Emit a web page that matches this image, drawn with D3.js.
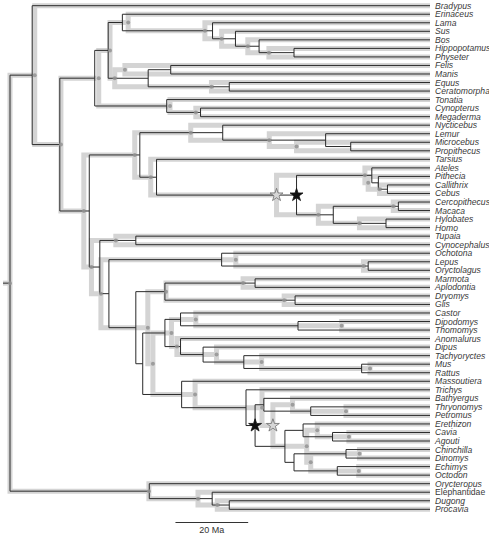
<!DOCTYPE html>
<html>
<head>
<meta charset="utf-8">
<script src="https://cdn.jsdelivr.net/npm/d3@7"></script>
<style>
  html, body { margin: 0; padding: 0; background: #fff; }
  svg { display: block; }
  text { font-family: "Liberation Sans", Arial, sans-serif; }
</style>
</head>
<body>
<svg id="chart" width="489" height="536"></svg>
<script>
// ---------- DATA ----------
const taxa = ["Bradypus","Erinaceus","Lama","Sus","Bos","Hippopotamus","Physeter","Felis","Manis","Equus",
  "Ceratomorpha","Tonatia","Cynopterus","Megaderma","Nycticebus","Lemur","Microcebus","Propithecus","Tarsius",
  "Ateles","Pithecia","Callithrix","Cebus","Cercopithecus","Macaca","Hylobates","Homo","Tupaia","Cynocephalus",
  "Ochotona","Lepus","Oryctolagus","Marmota","Aplodontia","Dryomys","Glis","Castor","Dipodomys","Thomomys",
  "Anomalurus","Dipus","Tachyoryctes","Mus","Rattus","Massoutiera","Trichys","Bathyergus","Thryonomys","Petromus",
  "Erethizon","Cavia","Agouti","Chinchilla","Dinomys","Echimys","Octodon","Orycteropus","Elephantidae","Dugong","Procavia"];
const uprightTaxa = ["Elephantidae"];

// internal nodes: name, two children
const cladeNames = ["Root","XB","Boreoeutheria","Laurasiatheria","LaurA","EriCet","Cetartiodactyla","Cet2","Cet3","Whippomorpha",
  "Fereuungulata","FelMan","Perissodactyla","Chiroptera","CynMeg","Euarchontoglires","Primates","Strepsirrhini","Lemuriformes","MicPro",
  "Haplorrhini","Anthropoidea","Platyrrhini","Plat2","CalCeb","Catarrhini","Cercopithecidae","Hominoidea","SundGlires","Sundatheria",
  "Glires","Lagomorpha","Leporidae","Rodentia","SciuroGlir","Sciuroidea","Gliridae","Rod2","MouseRel","Castorimorpha",
  "Geomyoidea","AnomMyo","Myodonta","Muroidea","Murinae","Ctenohystrica","Hystricognathi","HystCore","Phiomorpha","ThrPet",
  "Caviomorpha","EreCav","Cavioidea","ChinOct","Chinchilloidea","Octodontoidea","Afrotheria","Paenungulata","DugPro"];
const cladeChildren = [["XB","Afrotheria"],["Bradypus","Boreoeutheria"],["Laurasiatheria","Euarchontoglires"],["LaurA","Chiroptera"],
  ["EriCet","Fereuungulata"],["Erinaceus","Cetartiodactyla"],["Lama","Cet2"],["Sus","Cet3"],["Bos","Whippomorpha"],["Hippopotamus","Physeter"],
  ["FelMan","Perissodactyla"],["Felis","Manis"],["Equus","Ceratomorpha"],["Tonatia","CynMeg"],["Cynopterus","Megaderma"],
  ["Primates","SundGlires"],["Strepsirrhini","Haplorrhini"],["Nycticebus","Lemuriformes"],["Lemur","MicPro"],["Microcebus","Propithecus"],
  ["Tarsius","Anthropoidea"],["Platyrrhini","Catarrhini"],["Ateles","Plat2"],["Pithecia","CalCeb"],["Callithrix","Cebus"],
  ["Cercopithecidae","Hominoidea"],["Cercopithecus","Macaca"],["Hylobates","Homo"],["Sundatheria","Glires"],["Tupaia","Cynocephalus"],
  ["Lagomorpha","Rodentia"],["Ochotona","Leporidae"],["Lepus","Oryctolagus"],["SciuroGlir","Rod2"],["Sciuroidea","Gliridae"],
  ["Marmota","Aplodontia"],["Dryomys","Glis"],["MouseRel","Ctenohystrica"],["Castorimorpha","AnomMyo"],["Castor","Geomyoidea"],
  ["Dipodomys","Thomomys"],["Anomalurus","Myodonta"],["Dipus","Muroidea"],["Tachyoryctes","Murinae"],["Mus","Rattus"],
  ["Massoutiera","Hystricognathi"],["Trichys","HystCore"],["Phiomorpha","Caviomorpha"],["Bathyergus","ThrPet"],["Thryonomys","Petromus"],
  ["EreCav","ChinOct"],["Erethizon","Cavioidea"],["Cavia","Agouti"],["Chinchilloidea","Octodontoidea"],["Chinchilla","Dinomys"],
  ["Echimys","Octodon"],["Orycteropus","Paenungulata"],["Elephantidae","DugPro"],["Dugong","Procavia"]];
// node ages (Ma): black tree and grey tree
const ageBlack = [115.5,109.4,101.8,92.2,88.5,84.6,59.8,53.5,47.0,37.4,
  77.5,71.3,55.2,72.4,63.1,93.7,79.8,57.0,28.7,21.8,
  75.2,36.7,16.0,14.2,11.7,26.6,8.7,12.1,90.8,80.9,
  88.3,57.3,17.0,80.9,72.9,48.1,37.1,79.0,72.9,68.6,
  36.3,68.6,62.4,51.2,18.8,68.3,50.6,48.1,45.7,32.8,
  39.9,34.9,26.8,37.4,23.1,25.5,77.2,59.9,55.2];
const ageGrey = [115.5,108.7,101.5,91.1,88.0,83.0,61.9,57.3,50.1,44.3,
  86.7,83.9,60.1,71.5,64.4,95.2,81.2,65.8,44.2,36.7,
  76.8,42.2,17.9,17.0,13.9,30.7,10.1,19.4,93.1,86.4,
  90.5,53.4,18.3,77.6,72.6,51.4,40.1,76.2,71.1,64.4,
  24.3,69.6,58.7,46.3,16.5,64.6,46.2,43.2,37.8,23.1,
  33.9,31.0,22.3,32.8,19.4,19.6,77.3,63.8,58.5];
const starClades = ["Anthropoidea","HystCore"];
const scaleBarAges = [70, 50];
const scaleBarLabel = "20 Ma";

// ---------- BUILD ----------
const svg = d3.select("#chart");
const xScale = d3.scaleLinear().domain([115.5, 0]).range([10, 430]);
const yScale = d3.scalePoint().domain(taxa).range([5.7, 509.3]);

const clade = new Map();
cladeNames.forEach((n, i) => clade.set(n, {children: cladeChildren[i], b: ageBlack[i], g: ageGrey[i]}));
const yMemo = new Map();
function yOf(n) {
  if (yMemo.has(n)) return yMemo.get(n);
  let y;
  if (clade.has(n)) { const c = clade.get(n).children; y = (yOf(c[0]) + yOf(c[1])) / 2; }
  else y = yScale(n);
  yMemo.set(n, y); return y;
}
function ageOf(n, key) { return clade.has(n) ? clade.get(n)[key] : 0; }

function treePaths(key) {
  const out = [];
  cladeNames.forEach(n => {
    const [c0, c1] = clade.get(n).children;
    const nx = xScale(ageOf(n, key));
    const x0 = xScale(ageOf(c0, key)), x1 = xScale(ageOf(c1, key));
    out.push(`M${x0},${yOf(c0)}H${nx}V${yOf(c1)}H${x1}`);
  });
  return out;
}

const rootY = yOf("Root");
// grey tree (bands)
const gGrey = svg.append("g");
gGrey.selectAll("path").data(treePaths("g")).join("path")
  .attr("d", d => d).attr("fill", "none").attr("stroke", "#d4d4d4")
  .attr("stroke-width", 5).attr("stroke-linejoin", "miter");
gGrey.append("path").attr("d", `M3,${rootY}H${xScale(115.5)}`)
  .attr("stroke", "#d4d4d4").attr("stroke-width", 5);

// black tree
const gBlack = svg.append("g");
gBlack.selectAll("path").data(treePaths("b")).join("path")
  .attr("d", d => d).attr("fill", "none").attr("stroke", "#2a2a2a")
  .attr("stroke-width", 1);
gBlack.append("path").attr("d", `M3,${rootY}H${xScale(115.5)}`)
  .attr("stroke", "#2a2a2a").attr("stroke-width", 1);

// grey node dots
svg.append("g").selectAll("circle").data(cladeNames).join("circle")
  .attr("cx", n => xScale(clade.get(n).g)).attr("cy", n => yOf(n))
  .attr("r", 2).attr("fill", "#939393").attr("opacity", 0.85);

// stars
const star = d3.symbol().type(d3.symbolStar).size(52);
starClades.forEach(n => {
  svg.append("path").attr("d", star())
    .attr("transform", `translate(${xScale(clade.get(n).g)},${yOf(n)})`)
    .attr("fill", "#d6d6d6").attr("stroke", "#6e6e6e").attr("stroke-width", 0.8);
  svg.append("path").attr("d", star())
    .attr("transform", `translate(${xScale(clade.get(n).b)},${yOf(n)})`)
    .attr("fill", "#111").attr("stroke", "#111").attr("stroke-width", 0.8);
});

// tip labels
svg.append("g").selectAll("text").data(taxa).join("text")
  .attr("x", 435).attr("y", d => yScale(d)).attr("dy", "0.35em")
  .attr("font-size", 8.6).attr("fill", "#3a3a3a")
  .attr("font-style", d => uprightTaxa.includes(d) ? "normal" : "italic")
  .text(d => d);

// scale bar
const sb = svg.append("g");
sb.append("line").attr("x1", xScale(scaleBarAges[0])).attr("x2", xScale(scaleBarAges[1]))
  .attr("y1", 522.5).attr("y2", 522.5).attr("stroke", "#333").attr("stroke-width", 1);
sb.append("text").attr("x", (xScale(scaleBarAges[0]) + xScale(scaleBarAges[1])) / 2).attr("y", 533)
  .attr("text-anchor", "middle").attr("font-size", 9).attr("fill", "#333").text(scaleBarLabel);
</script>
</body>
</html>
